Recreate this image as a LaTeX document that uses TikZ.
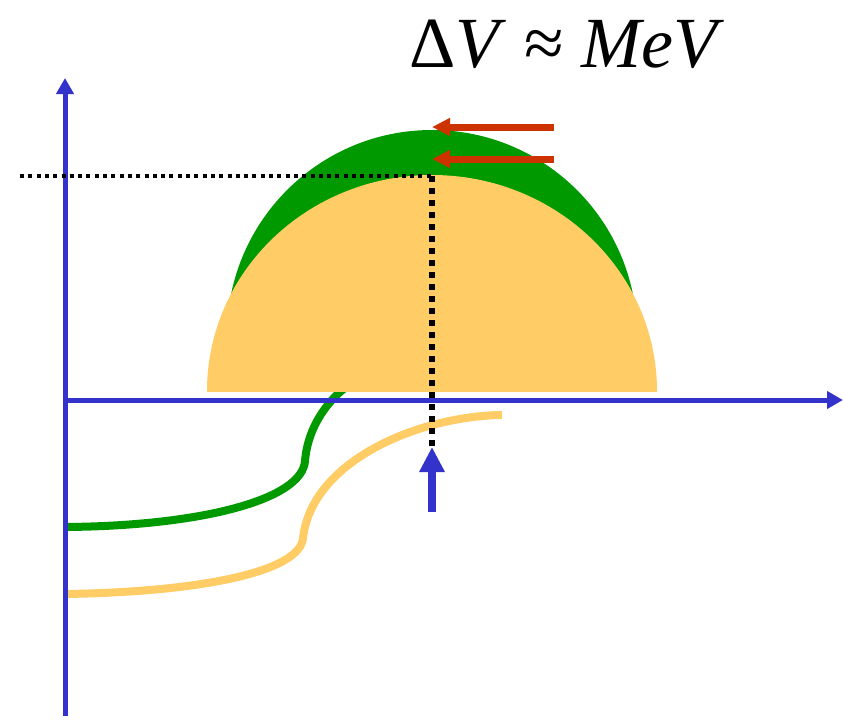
\documentclass[tikz,border=0pt]{standalone}
\usepackage{fontspec}
\setmainfont{Liberation Serif}
\usetikzlibrary{arrows.meta}
\definecolor{axisblue}{RGB}{51,51,204}
\definecolor{dgreen}{RGB}{0,153,0}
\definecolor{lyellow}{RGB}{255,204,102}
\definecolor{dred}{RGB}{204,51,0}
\tikzset{
  axis/.style={draw=axisblue,line width=5pt,-{Triangle[length=16pt,width=17pt]}},
  redarrow/.style={draw=dred,line width=7pt,-{Triangle[length=18pt,width=17pt]}},
  bluearrow/.style={draw=axisblue,line width=8pt,-{Triangle[length=25pt,width=24pt]}},
  level/.style={line width=8pt,line cap=butt},
  dotline/.style={draw=black}
}
\begin{document}
\begin{tikzpicture}[x=1pt,y=-1pt]
\useasboundingbox (0,0) rectangle (843,721);
% level curves (drawn first, so that the dome covers their ends)
\coordinate (g0) at (65,527);
\coordinate (g1) at (305,461);
\coordinate (g2) at (356,380);
\draw[dgreen,level] (g0) .. controls (200,526) and (302,500) .. (g1)
  .. controls (308,425) and (330,396) .. (g2);
\coordinate (y0) at (65,594);
\coordinate (y1) at (303,538);
\coordinate (y2) at (502,415);
\draw[lyellow,level] (y0) .. controls (200,592) and (300,572) .. (y1)
  .. controls (312,460) and (420,416) .. (y2);
% green and yellow domes
\begin{scope}
  \clip (0,0) rectangle (843,391);
  \fill[dgreen] (432,335) circle [radius=205];
  \fill[lyellow] (432,391) ellipse [x radius=225, y radius=216];
\end{scope}
% axes
\coordinate (o) at (65,400);
\coordinate (ytop) at (65,78);
\coordinate (ybot) at (65,716);
\coordinate (xend) at (843,400);
\draw[axis] (ybot) -- (ytop);
\draw[axis] (o) -- (xend);
% dotted lines
\coordinate (d0) at (20,176);
\coordinate (d1) at (432,176);
\coordinate (d2) at (432,452);
\draw[dotline,line width=4pt,dash pattern=on 4pt off 4.3pt] (d0) -- (d1);
\draw[dotline,line width=5.5pt,dash pattern=on 5.5pt off 6.5pt] (d1) -- (d2);
% blue arrow
\coordinate (b0) at (432,512);
\coordinate (b1) at (432,447);
\draw[bluearrow] (b0) -- (b1);
% red arrows
\coordinate (r1s) at (554,127);
\coordinate (r1e) at (432,127);
\coordinate (r2s) at (554,159);
\coordinate (r2e) at (432,159);
\draw[redarrow] (r1s) -- (r1e);
\draw[redarrow] (r2s) -- (r2e);
% title
\node[anchor=base,inner sep=0pt] (title) at (567,67) {\fontsize{72}{80}\selectfont Δ\textit{V} ≈ \textit{MeV}};
\end{tikzpicture}
\end{document}
